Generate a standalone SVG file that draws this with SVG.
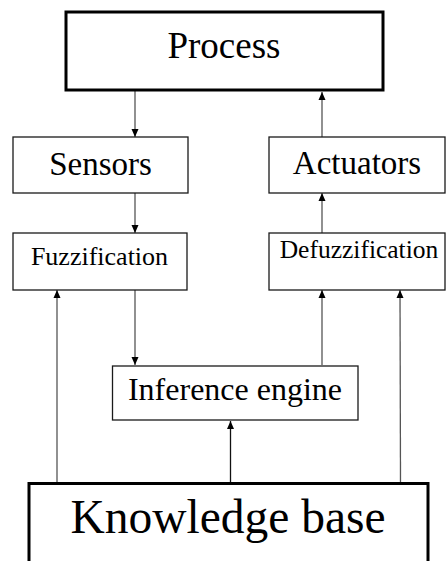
<svg xmlns="http://www.w3.org/2000/svg" width="446" height="561" viewBox="0 0 446 561">
  <style>
    .box { fill: #ffffff; stroke: #1a1a1a; stroke-width: 1.3; }
    .heavy { fill: #ffffff; stroke: #000000; stroke-width: 3; }
    .label { font-family: "Liberation Serif", "Times New Roman", serif; fill: #000000; text-anchor: middle; }
    .link { fill: none; stroke: #555555; stroke-width: 1.3; }
    .link-dark { fill: none; stroke: #111111; stroke-width: 1.3; }
  </style>
  <defs>
    <marker id="arrow" viewBox="0 0 8 8" refX="8" refY="4" markerWidth="8" markerHeight="8" markerUnits="userSpaceOnUse" orient="auto">
      <path d="M0,0.5 L8,4 L0,7.5 Z" fill="#000000"/>
    </marker>
  </defs>

  <rect width="446" height="561" fill="#ffffff"/>

  <g id="connectors">
    <!-- Process to Sensors -->
    <line class="link" x1="135" y1="91" x2="135" y2="137" marker-end="url(#arrow)"/>
    <!-- Actuators to Process -->
    <line class="link" x1="322" y1="137" x2="322" y2="92" marker-end="url(#arrow)"/>
    <!-- Sensors to Fuzzification -->
    <line class="link" x1="135" y1="193" x2="135" y2="233" marker-end="url(#arrow)"/>
    <!-- Defuzzification to Actuators -->
    <line class="link" x1="322" y1="233" x2="322" y2="193" marker-end="url(#arrow)"/>
    <!-- Fuzzification to Inference engine -->
    <line class="link" x1="135" y1="290" x2="135" y2="365" marker-end="url(#arrow)"/>
    <!-- Inference engine to Defuzzification -->
    <line class="link" x1="322" y1="365" x2="322" y2="290" marker-end="url(#arrow)"/>
    <!-- Knowledge base to Fuzzification -->
    <line class="link" x1="57" y1="482" x2="57" y2="290" marker-end="url(#arrow)"/>
    <!-- Knowledge base to Defuzzification -->
    <line class="link" x1="400.5" y1="482" x2="400" y2="290" marker-end="url(#arrow)"/>
    <!-- Knowledge base to Inference engine -->
    <line class="link-dark" x1="230.5" y1="482" x2="230.5" y2="421" marker-end="url(#arrow)"/>
  </g>

  <g id="process">
    <rect class="heavy" x="66" y="12" width="317" height="78"/>
    <text class="label" x="224" y="58" font-size="37">Process</text>
  </g>

  <g id="sensors">
    <rect class="box" x="13" y="137" width="175" height="56"/>
    <text class="label" x="100.5" y="175" font-size="33">Sensors</text>
  </g>

  <g id="actuators">
    <rect class="box" x="269" y="137" width="176" height="56"/>
    <text class="label" x="357" y="174" font-size="33">Actuators</text>
  </g>

  <g id="fuzzification">
    <rect class="box" x="13" y="233" width="174" height="57"/>
    <text class="label" x="99.5" y="265" font-size="26">Fuzzification</text>
  </g>

  <g id="defuzzification">
    <rect class="box" x="269" y="233" width="176" height="57"/>
    <text class="label" x="359" y="258" font-size="25.5">Defuzzification</text>
  </g>

  <g id="inference-engine">
    <rect class="box" x="112.5" y="366" width="245.5" height="54" stroke="#000000" stroke-width="1.6"/>
    <text class="label" x="235" y="400" font-size="32">Inference engine</text>
  </g>

  <g id="knowledge-base">
    <rect class="heavy" x="29" y="483.5" width="399" height="90"/>
    <text class="label" x="228" y="533" font-size="47.5">Knowledge base</text>
  </g>
</svg>
